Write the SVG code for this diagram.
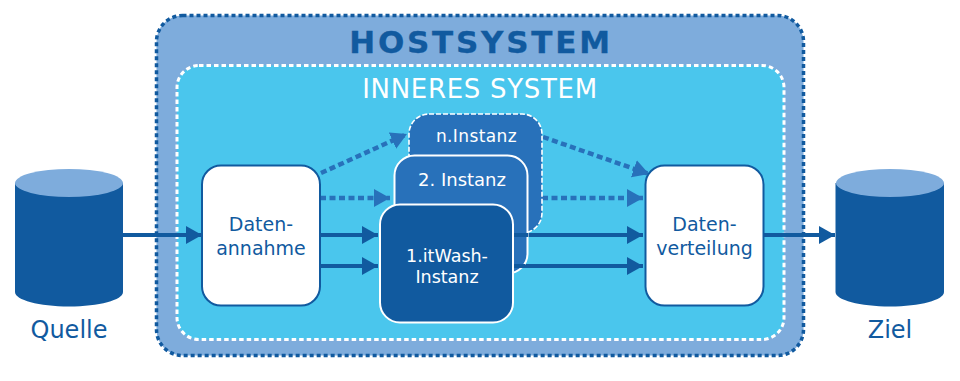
<svg xmlns="http://www.w3.org/2000/svg" width="960" height="381" viewBox="0 0 960 381">
<style>
text{font-family:"DejaVu Sans",Verdana,sans-serif;text-anchor:middle}
.dark{fill:#115a9f}
.w{fill:#fff}
.box{fill:#fff;stroke:#115a9f;stroke-width:2}
.cyl{fill:#115a9f}
.top{fill:#7eacdc}
.s{fill:none;stroke:#115a9f;stroke-width:4}
.d{fill:none;stroke:#2871ba;stroke-width:4.500;stroke-dasharray:6 3.500}
</style>
<defs>
<marker id="a1" markerUnits="userSpaceOnUse" markerWidth="17" markerHeight="19" refX="16" refY="9.500" orient="auto"><path d="M0 .5L16 9.500L0 18.500Z" fill="#115a9f"/></marker>
<marker id="a2" markerUnits="userSpaceOnUse" markerWidth="17" markerHeight="19" refX="16" refY="9.500" orient="auto"><path d="M0 .5L16 9.500L0 18.500Z" fill="#2871ba"/></marker>
</defs>
<g id="hostsystem">
<rect x="156.500" y="15.500" width="647" height="340" rx="26" fill="#7eacdc" stroke="#115a9f" stroke-width="3.500" stroke-dasharray="4 3"/>
<text x="481" y="53" font-size="31" font-weight="bold" letter-spacing="2.750" stroke="#115a9f" stroke-width=".3" class="dark">HOSTSYSTEM</text>
</g>
<g id="inneres-system">
<rect x="177" y="65.500" width="607" height="274" rx="22" fill="#4ac6ed" stroke="#fff" stroke-width="3" stroke-dasharray="4.500 3"/>
<text x="480" y="97.500" font-size="26" letter-spacing=".7" class="w">INNERES SYSTEM</text>
</g>
<g id="quelle">
<path class="cyl" d="M15 183V292C15 300 39 306.500 69 306.500S123 300 123 292V183Z"/>
<ellipse class="top" cx="69" cy="183" rx="54" ry="14"/>
<text x="69" y="338" font-size="24" class="dark">Quelle</text>
</g>
<g id="ziel">
<path class="cyl" d="M835.500 183V292C835.500 300 860 306.500 890 306.500S944 300 944 292V183Z"/>
<ellipse class="top" cx="890" cy="183" rx="54" ry="14"/>
<text x="890" y="338" font-size="24" class="dark">Ziel</text>
</g>
<g id="connectors">
<path class="s" marker-end="url(#a1)" d="M123 235H202"/>
<path class="s" marker-end="url(#a1)" d="M320 235H378"/>
<path class="s" marker-end="url(#a1)" d="M320 266H378"/>
<path class="d" marker-end="url(#a2)" d="M320 198H390"/>
<path class="d" marker-end="url(#a2)" d="M321 173L407 134"/>
<path class="d" marker-end="url(#a2)" d="M542 198H643"/>
<path class="d" marker-end="url(#a2)" d="M543 137L649 174"/>
<path class="s" marker-end="url(#a1)" d="M513 235H643"/>
<path class="s" marker-end="url(#a1)" d="M513 266H643"/>
<path class="s" marker-end="url(#a1)" d="M764 235H835"/>
</g>
<g id="n-instanz">
<rect x="409" y="114" width="133" height="119" rx="20" fill="#2871ba" stroke="#fff" stroke-width="1.600" stroke-dasharray="5 2"/>
<text x="476.500" y="142" font-size="17" letter-spacing=".4" class="w">n.Instanz</text>
</g>
<g id="instanz-2">
<rect x="394.500" y="155.500" width="133" height="118" rx="20" fill="#2871ba" stroke="#fff" stroke-width="2"/>
<text x="462" y="186" font-size="18" class="w">2. Instanz</text>
</g>
<path class="s" d="M513 235H528M513 266H525"/>
<g id="instanz-1">
<rect x="380" y="204.500" width="133" height="118" rx="20" fill="#115a9f" stroke="#fff" stroke-width="2"/>
<text x="447" y="262" font-size="17.500" class="w">1.itWash-</text>
<text x="447" y="283" font-size="17.500" class="w">Instanz</text>
</g>
<g id="datenannahme">
<rect x="202" y="165.500" width="118" height="140" rx="19" class="box"/>
<text x="261" y="231" font-size="19" class="dark">Daten-</text>
<text x="261" y="255" font-size="19" class="dark">annahme</text>
</g>
<g id="datenverteilung">
<rect x="645.500" y="165.500" width="118" height="140" rx="19" class="box"/>
<text x="704.500" y="231" font-size="19" class="dark">Daten-</text>
<text x="704.500" y="255" font-size="19" class="dark">verteilung</text>
</g>
</svg>
